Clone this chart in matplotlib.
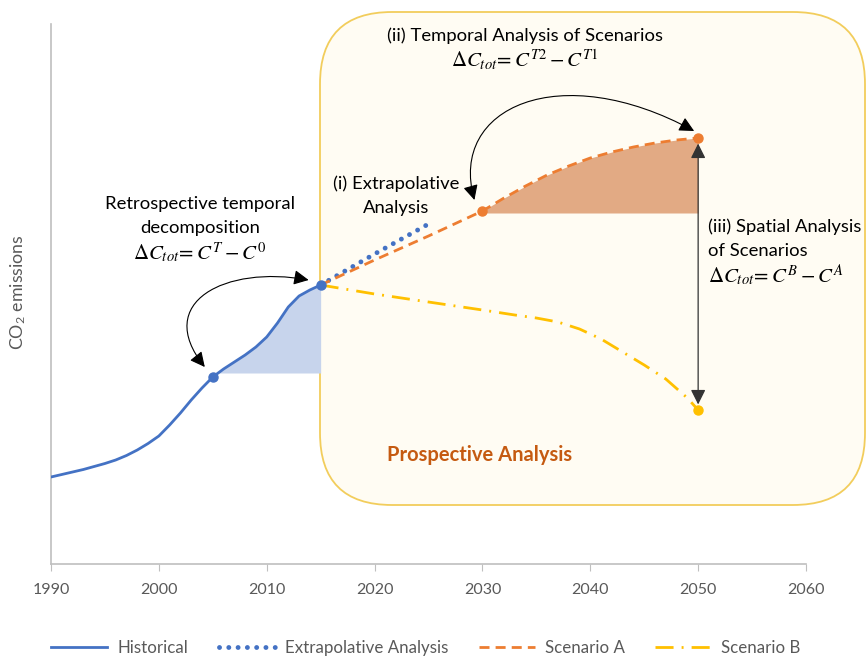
import matplotlib
matplotlib.use("Agg")
import matplotlib.pyplot as plt
from matplotlib.patches import FancyBboxPatch, FancyArrowPatch
from matplotlib.lines import Line2D
from matplotlib.path import Path
import numpy as np

plt.rcParams['font.family'] = ['Lato', 'DejaVu Sans']
plt.rcParams['mathtext.fontset'] = 'stix'

# data (arbitrary emission units)
hist_years = [1990, 1991, 1992, 1993, 1994, 1995, 1996, 1997, 1998, 1999, 2000, 2001, 2002,
              2003, 2004, 2005, 2006, 2007, 2008, 2009, 2010, 2011, 2012, 2013, 2014, 2015]
hist_vals = [87, 89.5, 92, 94.5, 97.5, 100.5, 104, 108.5, 114, 120.5, 128, 139, 151,
             164, 176, 187, 195, 202, 209, 217, 227, 241, 257, 268, 274, 279]

extra_years = [2015, 2020, 2025]
extra_vals = [279, 310, 340]

scen_a_years = [2015, 2020, 2025, 2030, 2032, 2034, 2036, 2038, 2040, 2042, 2044, 2046, 2048, 2050]
scen_a_vals = [279, 304, 328, 353, 366, 378, 389, 398, 406, 412, 417, 421, 424, 426]

scen_b_years = [2015, 2020, 2025, 2030, 2033, 2035, 2037, 2039, 2041, 2043, 2045, 2047, 2049, 2050]
scen_b_vals = [279, 270, 262, 254, 249, 246, 242, 235, 225, 212, 199, 185, 166, 154]

retro_base = 191     # bottom of the blue shaded area
temporal_base = 351  # bottom of the orange shaded area

x_ticks = [1990, 2000, 2010, 2020, 2030, 2040, 2050, 2060]

BLUE = '#4472C4'
ORANGE = '#ED7D31'
YELLOW = '#FFC000'
GREY = '#595959'

W, H = 866, 657
fig = plt.figure(figsize=(W / 100, H / 100), dpi=100)

# background layer in pixel units, for the rounded box and the texts
bg = fig.add_axes([0, 0, 1, 1])
bg.set_xlim(0, W)
bg.set_ylim(H, 0)
bg.axis('off')

box = FancyBboxPatch((320, 12), 545, 493, boxstyle="round,pad=0,rounding_size=72",
                     fc='#FFFCF3', ec='#F2CD5C', lw=1.3)
bg.add_patch(box)

ax = fig.add_axes([51 / W, (H - 564) / H, 755 / W, 540 / H])
ax.patch.set_alpha(0)
ax.set_xlim(1990, 2060)
ax.set_ylim(0, 540)

# shaded areas
hy = np.array(hist_years)
hv = np.array(hist_vals)
m = hy >= 2005
ax.fill_between(hy[m], retro_base, hv[m], color='#C7D4EC', lw=0, zorder=1)
ay = np.array(scen_a_years)
av = np.array(scen_a_vals)
m = ay >= 2030
ax.fill_between(ay[m], temporal_base, av[m], color='#E2AA84', lw=0, zorder=1)

ax.plot(hist_years, hist_vals, color=BLUE, lw=2, zorder=3, solid_capstyle='round',
        solid_joinstyle='round')
ax.plot(extra_years, extra_vals, color=BLUE, lw=3.5, ls=(0, (0.01, 1.9)),
        dash_capstyle='round', zorder=3)
ax.plot(scen_a_years, scen_a_vals, color=ORANGE, lw=2, ls=(0, (3.6, 2.2)), zorder=3)
ax.plot(scen_b_years, scen_b_vals, color=YELLOW, lw=2, ls=(0, (6.5, 2.9, 0.7, 2.9)), zorder=3)

# key points
ax.plot([2005, 2015], [hist_vals[15], hist_vals[-1]], 'o', color=BLUE, ms=6.5, zorder=4)
ax.plot([2030, 2050], [scen_a_vals[3], scen_a_vals[-1]], 'o', color=ORANGE, ms=6.5, zorder=4)
ax.plot([2050], [scen_b_vals[-1]], 'o', color=YELLOW, ms=6.5, zorder=4)

for s in ['top', 'right']:
    ax.spines[s].set_visible(False)
for s in ['left', 'bottom']:
    ax.spines[s].set_color('#BFBFBF')
    ax.spines[s].set_linewidth(1.2)
ax.set_yticks([])
ax.set_xticks(x_ticks)
ax.tick_params(axis='x', length=5, color='#BFBFBF', labelcolor=GREY, labelsize=11.5, pad=9)

fig.canvas.draw()


def to_px(x, y):
    return bg.transData.inverted().transform(ax.transData.transform((x, y)))


def bezier_arrow(p0, p1, p2, p3):
    path = Path([p0, p1, p2, p3], [Path.MOVETO, Path.CURVE4, Path.CURVE4, Path.CURVE4])
    arr = FancyArrowPatch(path=path, arrowstyle='<|-|>,head_length=0.6,head_width=0.3',
                          mutation_scale=15, color='black', lw=0.8,
                          transform=bg.transData, clip_on=False, zorder=5)
    ax.add_patch(arr)


# retrospective arc
a = to_px(2015, hist_vals[-1])
b = to_px(2005, hist_vals[15])
bezier_arrow(a + (-12, -5), a + (-95, -20), b + (-60, -75), b + (-8, -10))

# temporal arc
a = to_px(2030, scen_a_vals[3])
b = to_px(2050, scen_a_vals[-1])
bezier_arrow(a + (-8, -11), a + (-34, -104), b + (-138, -80), b + (-4, -7))

# spatial arrow
ax.add_patch(FancyArrowPatch((2050, scen_a_vals[-1]), (2050, scen_b_vals[-1]),
                             arrowstyle='<|-|>,head_length=0.6,head_width=0.3',
                             mutation_scale=15, color='#333333', lw=0.9,
                             shrinkA=4, shrinkB=4, zorder=5))

# labels
fs = 13.3
mfs = 15
bg.text(200, 204, 'Retrospective temporal', ha='center', va='center', fontsize=fs)
bg.text(200, 228, 'decomposition', ha='center', va='center', fontsize=fs)
bg.text(200, 253, r'$\Delta C_{tot}\!= C^{T} - C^{0}$', ha='center', va='center', fontsize=mfs)

bg.text(396, 184, '(i) Extrapolative', ha='center', va='center', fontsize=fs)
bg.text(396, 208, 'Analysis', ha='center', va='center', fontsize=fs)

bg.text(525, 36, '(ii) Temporal Analysis of Scenarios', ha='center', va='center', fontsize=fs)
bg.text(525, 60, r'$\Delta C_{tot}\!= C^{T2} - C^{T1}$', ha='center', va='center', fontsize=mfs)

bg.text(708, 227, '(iii) Spatial Analysis', ha='left', va='center', fontsize=fs)
bg.text(708, 251, 'of Scenarios', ha='left', va='center', fontsize=fs)
bg.text(708, 276, r'$\Delta C_{tot}\!= C^{B} - C^{A}$', ha='left', va='center', fontsize=mfs)

bg.text(480, 455, 'Prospective Analysis', ha='center', va='center', fontsize=14.5,
        fontweight='bold', color='#C55A11')

bg.text(18, 292, r'CO$_\mathregular{2}$ emissions', rotation=90, ha='center', va='center',
        fontsize=12.8, color=GREY)

handles = [
    Line2D([], [], color=BLUE, lw=2),
    Line2D([], [], color=BLUE, lw=3.5, ls=(0, (0.01, 1.9)), dash_capstyle='round'),
    Line2D([], [], color=ORANGE, lw=2, ls=(0, (3.6, 2.2))),
    Line2D([], [], color=YELLOW, lw=2, ls=(0, (6.5, 2.9, 0.7, 2.9))),
]
labels = ['Historical', 'Extrapolative Analysis', 'Scenario A', 'Scenario B']
fig.legend(handles, labels, loc='center', bbox_to_anchor=(0.492, (H - 648) / H), ncol=4,
           frameon=False, handlelength=3.3, columnspacing=1.8, fontsize=12.2,
           labelcolor=GREY, handletextpad=0.6)

fig.savefig('out.png', dpi=100)
